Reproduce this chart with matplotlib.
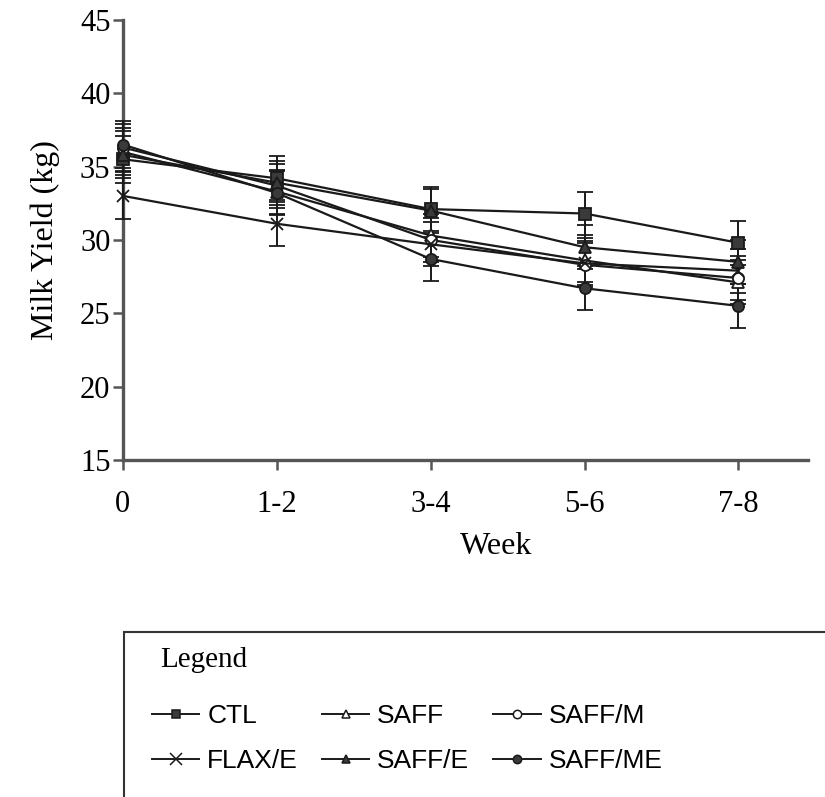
import matplotlib
matplotlib.use("Agg")
import matplotlib.pyplot as plt
from matplotlib.patches import Rectangle
from matplotlib.lines import Line2D

weeks = ["0", "1-2", "3-4", "5-6", "7-8"]
ctl = [35.5, 34.2, 32.1, 31.8, 29.8]
saff = [36.0, 33.3, 30.3, 28.6, 27.1]
saff_m = [36.3, 33.7, 30.0, 28.3, 27.4]
flax_e = [33.0, 31.1, 29.7, 28.4, 27.9]
saff_e = [35.8, 33.9, 32.0, 29.5, 28.5]
saff_me = [36.5, 33.2, 28.7, 26.7, 25.5]
sem = [1.6, 1.5, 1.5, 1.5, 1.5]

series = [
    ("CTL", ctl, "s", "#3a3a3a"),
    ("SAFF", saff, "^", "white"),
    ("SAFF/M", saff_m, "o", "white"),
    ("FLAX/E", flax_e, "x", "#222222"),
    ("SAFF/E", saff_e, "^", "#3a3a3a"),
    ("SAFF/ME", saff_me, "o", "#3a3a3a"),
]

serif = ["Liberation Serif", "DejaVu Serif"]
sans = ["Liberation Sans", "DejaVu Sans"]

fig = plt.figure(figsize=(8.25, 7.97), dpi=100)
ax = fig.add_axes([0.149, 0.423, 0.83, 0.552])
x = list(range(len(weeks)))
proxies = {}
for name, vals, mk, fc in series:
    ax.errorbar(x, vals, yerr=sem, color="#1a1a1a", lw=1.6, marker=mk,
                markersize=8 if mk != "x" else 9, markerfacecolor=fc,
                markeredgecolor="#1a1a1a", markeredgewidth=1.3,
                ecolor="#1a1a1a", elinewidth=1.4, capsize=6, capthick=1.4,
                label=name, clip_on=False, zorder=3)
    proxies[name] = Line2D([], [], color="#1a1a1a", lw=1.4, marker=mk,
                           markersize=6 if mk != "x" else 8, markerfacecolor=fc,
                           markeredgecolor="#1a1a1a", markeredgewidth=1.1)

ax.set_xlim(0, 4.45)
ax.set_ylim(15, 45)
ax.set_yticks([15, 20, 25, 30, 35, 40, 45])
ax.set_xticks(x)
ax.set_xticklabels(weeks)
for s in ["top", "right"]:
    ax.spines[s].set_visible(False)
for s in ["left", "bottom"]:
    ax.spines[s].set_linewidth(2.4)
    ax.spines[s].set_color("#555555")
ax.tick_params(axis="both", direction="out", length=7, width=1.8, color="#555555",
               labelsize=22)
ax.tick_params(axis="y", pad=2)
ax.tick_params(axis="x", pad=15)
for lab in ax.get_xticklabels() + ax.get_yticklabels():
    lab.set_family(serif)
ax.set_ylabel("Milk Yield (kg)", fontsize=23, family=serif, labelpad=14)
ax.set_xlabel("Week", fontsize=23, family=serif, labelpad=6)
ax.xaxis.set_label_coords(0.545, -0.165)

# legend box
fig.patches.append(Rectangle((124 / 825, -0.05), 1.0, 1 - 632 / 797 + 0.05,
                             transform=fig.transFigure, fill=False,
                             edgecolor="#333333", lw=1.5))
fig.text(160 / 825, 1 - 660 / 797, "Legend", fontsize=21, family=serif,
         va="center", ha="left")
order = ["CTL", "FLAX/E", "SAFF", "SAFF/E", "SAFF/M", "SAFF/ME"]
fig.legend(handles=[proxies[n] for n in order], labels=order, ncol=3,
           loc="upper left", bbox_to_anchor=(128 / 825, 1 - 680 / 797),
           frameon=False, prop={"family": sans, "size": 19},
           handlelength=1.8, handletextpad=0.3, columnspacing=0.9,
           labelspacing=0.8)

fig.savefig("out.png", dpi=100)
